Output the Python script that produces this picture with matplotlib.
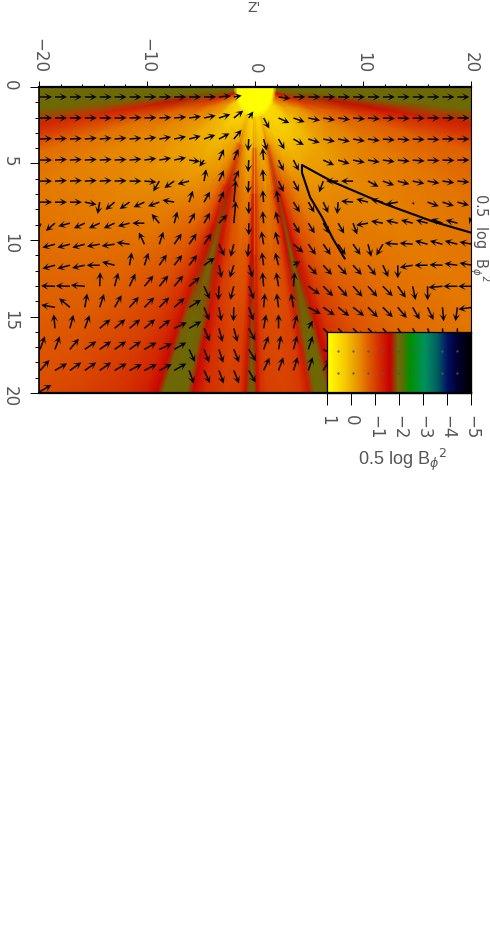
import numpy as np
import matplotlib
matplotlib.use("Agg")
from matplotlib import pyplot as plt
from matplotlib.colors import LinearSegmentedColormap

W, H = 490, 930
plt.rcParams['font.family'] = ['DejaVu Sans']
GREY = '#555555'

# colour scale of the bar, from the top value down
cbar_vals = [1, 0.75, 0.25, -0.3, -0.7, -1.3, -1.63, -1.95, -2.1, -2.46, -3.1, -3.6, -4.04, -4.46, -5]
cbar_cols = ['#ffff00', '#ffee00', '#f5c800', '#e89000', '#df6000', '#d02000', '#c80000', '#6f6a05', '#686a05',
             '#009000', '#009060', '#006060', '#001060', '#000030', '#000000']

# field table: angle from the downward axis (deg) against radius
theta = [-90, -86, -83, -78, -72, -60, -45, -32, -27, -24.5, -23, -20, -17.5, -16, -13, -8, -4, -2.4, -1.9, -1,
         0, 0.5, 1.5, 3, 8, 12, 14, 15.5, 17, 18.5, 20, 23, 30, 40, 55, 70, 78, 83, 86, 90]
radius = [0, 1.7, 2.0, 4, 7, 11, 16, 22, 30]
field = [
    [1.3] * 40,
    [1.3] * 40,
    [-2, -2, -2, -1.5, -.7, .4] + [.5] * 28 + [.4, -.7, -1.5, -2, -2, -2],
    [-2, -2, -1.9, -1.2, -.5, .05, .2, 0, -.1, -.25, -.4, -.7, -.4, -.3, -.1, .15, .1, -.3, -.6, -.6,
     .2, -.6, -.4, -.1, .1, .05, -.1, -.5, -.8, -.5, -.3, -.1, .15, .3, .25, -.2, -1.2, -1.9, -2, -2],
    [-2, -2, -1.7, -.7, -.35, -.1, -.1, -.35, -.6, -.9, -1.2, -1.7, -1.2, -1, -.7, -.45, -.45, -.9, -1.2, -1.2,
     -.4, -1.1, -.9, -.6, -.4, -.55, -.9, -1.3, -1.8, -1.3, -1, -.7, -.35, -.15, -.1, -.35, -.8, -1.7, -2, -2],
    [-2, -2, -1.3, -.55, -.35, -.3, -.45, -.7, -1, -1.3, -1.55, -1.95, -1.55, -1.3, -.95, -.75, -.8, -1.2, -1.5, -1.6,
     -.9, -1.3, -1, -.8, -.7, -.85, -1.2, -1.6, -2, -1.6, -1.3, -.9, -.6, -.45, -.35, -.45, -.7, -1.5, -2, -2],
    [-2, -2, -1.2, -.55, -.4, -.45, -.65, -.95, -1.2, -1.45, -1.9, -2.05, -1.9, -1.5, -1.15, -.95, -1, -1.35, -1.7, -1.9,
     -1.7, -1.4, -1.1, -.95, -.9, -1, -1.35, -1.9, -2.05, -1.9, -1.5, -1.1, -.8, -.6, -.45, -.5, -.7, -1.3, -2, -2],
    [-2, -2, -1.3, -.6, -.5, -.6, -.8, -1.1, -1.3, -1.6, -2, -2.05, -2, -1.6, -1.2, -1.05, -1.1, -1.6, -2, -2.05,
     -2, -1.6, -1.2, -1.05, -1, -1.1, -1.4, -2, -2.05, -2, -1.6, -1.2, -.9, -.65, -.5, -.55, -.7, -1.3, -2, -2],
    [-2, -2, -1.3, -.65, -.6, -.7, -.9, -1.2, -1.4, -1.7, -2, -2.05, -2, -1.7, -1.25, -1.1, -1.1, -1.6, -2, -2.05,
     -2, -1.6, -1.2, -1.05, -1, -1.1, -1.4, -2, -2.05, -2, -1.6, -1.2, -.9, -.65, -.5, -.55, -.7, -1.3, -2, -2],
]

# arrow grid and the direction of each arrow on the page (deg, None = no arrow)
arrow_z = np.arange(30) * 1.38 - 19.9
arrow_r = np.arange(15) * 1.375 + 0.65
N = None
arrow_angle = [
    [0, 0, 0, 0, 0, 0, 0, 0, 0, 0, 0, 0, 5, 10, N, N, -8, 0, 0, 0, 0, 0, 0, 0, 0, 0, 0, 0, 0],
    [0, 0, 0, 0, 0, 1, 2, 2, 3, 5, 8, 12, 18, 38, 55, -62, -25, -20, -12, -10, -8, -5, -5, -3, -3, -2, 0, 0, 0],
    [3, 3, 3, 5, 5, 5, 5, 8, 10, 12, 15, 20, 28, 50, -93, -75, -60, -30, -18, -12, -12, -10, -8, -5, -5, -3, -3, 0, 0],
    [0, 3, 3, 3, 3, 3, 5, 8, 10, 12, -8, -125, 65, 68, -93, 95, -65, -63, N, -25, -18, -12, -10, -8, -6, -5, -3, -2, 0],
    [0, 3, 3, 3, 3, 2, 0, -5, -120, -145, -165, 80, 65, 65, -93, 95, -65, -62, N, -110, 180, 180, -28, -20, -15, -12, -10, -8, -5],
    [0, 0, 0, -12, -100, -140, -145, -155, -160, 170, 72, 60, 65, 85, -90, 95, 100, -58, -60, -65, -95, 175, 165, 168, 190, -60, -20, -18, -15],
    [-90, -140, -165, -155, -155, -155, -165, 180, 130, 75, 60, 60, 45, 85, -90, 95, 105, -58, -58, -60, -60, -70, 190, 170, 167, 165, 165, 160, 165, 120],
    [N, -165, -165, -165, -170, -172, 172, 115, 72, 55, 55, 55, -65, -105, -95, 100, 105, -40, -55, -55, -55, -55, -75, -120, 175, 175, 165, 165, 165, 170],
    [N, -165, -165, -168, 180, 165, 80, 72, 55, 52, 52, 35, -78, -108, -72, 98, 105, 30, -48, -48, -48, -48, -52, -65, -90, -170, 180, 178, 172, 170],
    [N, 178, 178, 175, 88, 75, 65, 50, 50, 50, 40, -65, -92, -105, -68, 95, 100, 85, -35, -45, -48, -48, -48, -45, -55, -78, -90, 185, 180, 180],
    [N, 170, 140, 80, 72, 60, 48, 45, 45, 42, 32, -68, -80, -92, -70, 85, 98, 100, -28, -35, -38, -38, -45, -45, -50, -60, -65, -85, -98, 188],
    [N, 95, 75, 70, 40, 40, 40, 40, 38, 25, 30, -65, -75, -75, -62, 80, 90, 75, 60, -45, -45, -45, -45, -50, -55, -60, -70, -85, -90],
    [70, 70, 50, 35, 35, 35, 35, 30, 25, 30, -65, -68, -72, -68, -58, 70, 80, 75, 72, -30],
    [48, 30, 35, 35, 35, 30, 27, 27, 27, 30, -70, -65, -70, -68, -60, 65, 70, 72, 72, 60],
    [30],
]
row_length = [12, 12, 12, 12, 12, 12, 12, 13, 13, 14, 14, 14, 14, 14, 13]
odd_length = {(0, 13): 8, (1, 14): 8, (3, 11): 8, (5, 13): 22, (6, 13): 22, (5, 25): 3, (6, 0): 4, (6, 29): 7,
              (3, 10): 11, (8, 17): 8, (11, 18): 9}

# thick contour, z' and r
contour_z = [8.3, 7.2, 6.2, 5.1, 4.35, 4.35, 7.2, 11.85, 16.5, 19.9]
contour_r = [11.2, 9.9, 8.5, 7.2, 5.6, 5.1, 6.2, 7.6, 8.8, 9.5]

x_major = [-20, -10, 0, 10, 20]
x_labels = ['\u221220', '\u221210', '0', '10', '20']
y_major = [0, 5, 10, 15, 20]
cbar_ticks = [1, 0, -1, -2, -3, -4, -5]
cbar_labels = ['1', '0', '\u22121', '\u22122', '\u22123', '\u22124', '\u22125']
TITLE = r'0.5  log  B$_{\phi}$$^{2}$'


def px_box(x0, y0, x1, y1):
    return [x0 / W, 1 - y1 / H, (x1 - x0) / W, (y1 - y0) / H]


cmap = LinearSegmentedColormap.from_list(
    'field', [((v + 5) / 6, c) for v, c in zip(cbar_vals[::-1], cbar_cols[::-1])], N=512)

fig = plt.figure(figsize=(W / 100, H / 100), dpi=100)
ax = fig.add_axes(px_box(39, 87, 471, 393))

th = np.radians(theta)
rr = np.array(radius)
X = np.outer(rr, np.sin(th))
Y = np.outer(rr, np.cos(th))
ax.pcolormesh(X, Y, np.array(field), cmap=cmap, vmin=-5, vmax=1, shading='gouraud')

# arrows
qx, qy, qu, qv = [], [], [], []
for j, row in enumerate(arrow_angle):
    for i, a in enumerate(row):
        if a is None:
            continue
        ln = odd_length.get((j, i), row_length[j])
        qx.append(arrow_z[i])
        qy.append(arrow_r[j])
        qu.append(ln * np.cos(np.radians(a)))
        qv.append(ln * np.sin(np.radians(a)))
ax.quiver(qx, qy, qu, qv, angles='uv', units='dots', scale_units='dots', scale=1, pivot='tail',
          width=1.5, headwidth=5, headlength=5, headaxislength=3, color='#050505', zorder=3)

ax.plot(contour_z, contour_r, color='black', lw=1.5, zorder=4, solid_joinstyle='round')

ax.set_xlim(-20, 20)
ax.set_ylim(20, 0)
ax.xaxis.tick_top()
ax.set_xticks(x_major)
ax.set_xticklabels(x_labels)
ax.set_xticks(np.arange(-20, 21, 2), minor=True)
ax.set_yticks(y_major)
ax.set_yticks(np.arange(0, 21, 1), minor=True)
ax.tick_params(axis='x', which='major', length=4.5, width=0.7, pad=5.5, labelsize=12, labelcolor=GREY, labelrotation=-90)
ax.tick_params(axis='x', which='minor', length=2.2, width=0.7)
ax.tick_params(axis='y', which='major', length=6.5, width=0.7, pad=8, labelsize=12, labelcolor=GREY, labelrotation=-90)
ax.tick_params(axis='y', which='minor', length=3, width=0.7)
for s, lw in zip(['top', 'bottom', 'left', 'right'], [1.6, 1.6, 1.2, 0.8]):
    ax.spines[s].set_linewidth(lw)

# colour bar inset
cax = fig.add_axes(px_box(327, 332, 471, 393), zorder=5)
grad = np.linspace(1, -5, 300).reshape(1, -1)
cax.imshow(grad, aspect='auto', cmap=cmap, vmin=-5, vmax=1, extent=[1, -5, 0, 1])
dot_vals = 1 - (arrow_z[20:29] * 10.8 + 255 - 327) / 24
cax.plot(np.repeat(dot_vals, 2), np.tile([0.69, 0.33], 9), ls='none', marker='.', ms=1.2, color='#555555')
cax.set_xlim(1, -5)
cax.set_ylim(0, 1)
cax.set_yticks([])
cax.set_xticks(cbar_ticks)
cax.set_xticklabels(cbar_labels)
cax.tick_params(axis='x', length=8.6, width=0.7, pad=7, labelsize=12, labelcolor=GREY, labelrotation=-90)
for s in cax.spines.values():
    s.set_linewidth(0.9)
cax.spines['bottom'].set_linewidth(1.6)

fig.text(254 / W, 1 - 8 / H, "Z'", color=GREY, fontsize=10, ha='center', va='center')
fig.text(480 / W, 1 - 238 / H, TITLE, color=GREY, fontsize=10.5, rotation=-90, ha='center', va='center')
fig.text(402 / W, 1 - 460 / H, r'0.5 log B$_{\phi}$$^{2}$', color=GREY, fontsize=13, family='Liberation Sans',
         ha='center', va='center')

fig.savefig('out.png', dpi=100)
